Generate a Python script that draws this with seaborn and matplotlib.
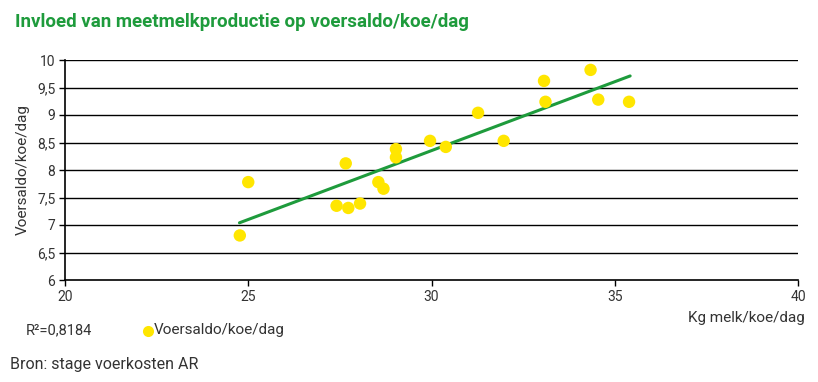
import numpy as np
import pandas as pd
import seaborn as sns
import matplotlib.pyplot as plt
from matplotlib.lines import Line2D

# Data
melk = [24.77, 25.0, 27.66, 27.41, 27.73, 28.05, 28.55, 28.69, 29.03, 29.03,
        29.96, 30.39, 31.27, 31.97, 33.07, 33.11, 34.34, 34.55, 35.39]
voersaldo = [6.81, 7.78, 8.12, 7.35, 7.31, 7.39, 7.78, 7.66, 8.38, 8.23,
             8.53, 8.42, 9.04, 8.53, 9.62, 9.24, 9.82, 9.28, 9.24]
trend_x = [24.76, 35.42]
trend_y = [7.04, 9.71]
x_ticks = [20, 25, 30, 35, 40]
y_ticks = [6, 6.5, 7, 7.5, 8, 8.5, 9, 9.5, 10]
y_labels = ['6', '6,5', '7', '7,5', '8', '8,5', '9', '9,5', '10']

df = pd.DataFrame({'melk': melk, 'voersaldo': voersaldo})
trend = pd.DataFrame({'x': trend_x, 'y': trend_y})

sns.set_style('white')
plt.rcParams['font.family'] = ['Roboto', 'DejaVu Sans']

yellow = '#FFE600'
green = '#1E9B3C'

fig = plt.figure(figsize=(8.18, 3.82), dpi=100)
ax = fig.add_axes([65 / 818, 1 - 280 / 382, (798 - 65) / 818, 220 / 382])

# horizontal gridlines
for yt in y_ticks[1:]:
    ax.axhline(yt, color='black', lw=1.0, zorder=1)

sns.lineplot(data=trend, x='x', y='y', color=green, lw=2.2, ax=ax, zorder=2)
sns.scatterplot(data=df, x='melk', y='voersaldo', color=yellow, s=80,
                edgecolor='none', ax=ax, zorder=3)

ax.set_xlim(20, 40)
ax.set_ylim(6, 10)
ax.set_xticks(x_ticks)
ax.set_xticklabels([str(v) for v in x_ticks])
ax.set_yticks(y_ticks)
ax.set_yticklabels(y_labels)
ax.tick_params(axis='both', labelsize=10, colors='black', labelcolor='#333333',
               length=4, width=1, direction='out', bottom=True, left=True, pad=3)
for side in ['top', 'right']:
    ax.spines[side].set_visible(False)
for side in ['left', 'bottom']:
    ax.spines[side].set_color('black')
    ax.spines[side].set_linewidth(1.2)
ax.set_xlabel('')
ax.set_ylabel('Voersaldo/koe/dag', fontsize=11, color='#333333', labelpad=5)

fig.text(15 / 818, 1 - 22 / 382, 'Invloed van meetmelkproductie op voersaldo/koe/dag',
         fontsize=13.5, fontweight='bold', color=green, va='center', ha='left')
fig.text(805 / 818, 1 - 318 / 382, 'Kg melk/koe/dag', fontsize=11,
         color='#333333', va='center', ha='right')
fig.text(26 / 818, 1 - 330 / 382, 'R²=0,8184', fontsize=10.5,
         color='#333333', va='center', ha='left')
fig.add_artist(Line2D([148 / 818], [1 - 331 / 382], marker='o', markersize=8,
                      color=yellow, markeredgewidth=0, transform=fig.transFigure))
fig.text(154 / 818, 1 - 330 / 382, 'Voersaldo/koe/dag', fontsize=11,
         color='#333333', va='center', ha='left')
fig.text(10 / 818, 1 - 364 / 382, 'Bron: stage voerkosten AR', fontsize=11.5,
         color='#333333', va='center', ha='left')

fig.savefig('out.png', dpi=100)
